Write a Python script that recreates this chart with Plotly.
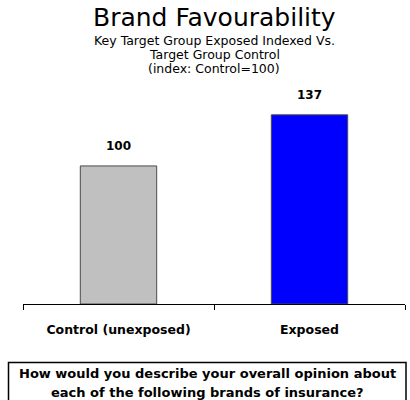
import plotly.graph_objects as go

# Chart data
categories = ["Control (unexposed)", "Exposed"]
index_values = [100, 137]
bar_colors = ["#C0C0C0", "#0000FF"]

title_text = "Brand Favourability"
subtitle_lines = [
    "Key Target Group Exposed Indexed Vs.",
    "Target Group Control",
    "(index: Control=100)",
]
question_lines = [
    "How would you describe your overall opinion about",
    "each of the following brands of insurance?",
]

FONT = "DejaVu Sans"
W, H = 410, 400
ML, MR, MT, MB = 23, 5, 90, 96
PLOT_H = H - MT - MB
PLOT_W = W - ML - MR


def py(p):
    """Pixel row -> paper y."""
    return (H - MB - p) / PLOT_H


def px(p):
    """Pixel column -> paper x."""
    return (p - ML) / PLOT_W


fig = go.Figure()
fig.add_trace(go.Bar(
    x=categories,
    y=index_values,
    width=0.4,
    marker=dict(color=bar_colors, line=dict(color="#4a4a4a", width=1)),
    hoverinfo="skip",
))

annotations = []
# value labels above bars
for c, v in zip(categories, index_values):
    annotations.append(dict(
        x=c, y=v, xref="x", yref="y", text=f"<b>{v}</b>", showarrow=False,
        yanchor="bottom", yshift=11, font=dict(family=FONT, size=12, color="#000"),
    ))

# title and subtitles
annotations.append(dict(
    x=0.5, y=py(18), xref="paper", yref="paper", text=title_text, showarrow=False,
    yanchor="middle", font=dict(family=FONT, size=25, color="#000"),
))
for i, line in enumerate(subtitle_lines):
    annotations.append(dict(
        x=0.5, y=py(40.5 + 14 * i), xref="paper", yref="paper", text=line,
        showarrow=False, yanchor="middle", borderpad=0,
        font=dict(family=FONT, size=12.5, color="#000"),
    ))

# question box text
for i, line in enumerate(question_lines):
    annotations.append(dict(
        x=px(207), y=py(373 + 19 * i), xref="paper", yref="paper", text=f"<b>{line}</b>",
        showarrow=False, yanchor="middle", font=dict(family=FONT, size=13, color="#000"),
    ))

fig.update_layout(
    width=W, height=H,
    margin=dict(l=ML, r=MR, t=MT, b=MB, pad=0),
    paper_bgcolor="white", plot_bgcolor="white",
    showlegend=False,
    annotations=annotations,
    shapes=[dict(
        type="rect", xref="paper", yref="paper",
        x0=px(8.5), x1=px(406), y0=py(403), y1=py(362.5),
        line=dict(color="#000", width=1.5), fillcolor="rgba(0,0,0,0)",
    )],
    xaxis=dict(
        range=[-0.5, 1.5], showline=True, linecolor="#000", linewidth=1,
        ticks="outside", tickson="boundaries", ticklen=5, tickcolor="#000",
        tickfont=dict(family=FONT, size=12.5, color="#000"),
        tickvals=categories, ticktext=[f"<b>{c}</b>" for c in categories],
        ticklabelstandoff=14, showgrid=False, fixedrange=True,
    ),
    yaxis=dict(range=[0, 155], visible=False, fixedrange=True),
)

fig.write_html("out.html", config={"displayModeBar": False})
